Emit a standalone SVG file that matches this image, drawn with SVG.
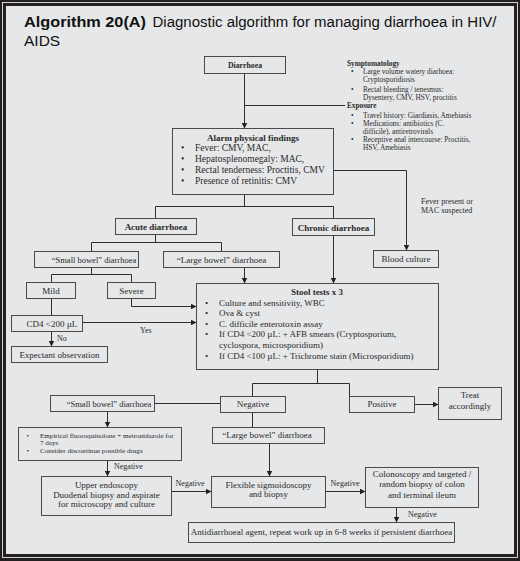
<svg xmlns="http://www.w3.org/2000/svg" width="520" height="561" viewBox="0 0 520 561">
<defs>
<style>
.box{fill:#e6e7e8;stroke:#4a4a4a;stroke-width:1}
.ln{fill:none;stroke:#2e2e2e;stroke-width:1}
.t{font-family:"Liberation Serif","Times New Roman",serif;font-size:9px;fill:#2a2a2a}
.c{text-anchor:middle}
.b{font-weight:bold}
.sm{font-size:7.3px}
.xs{font-size:7.1px}
.lb{font-size:8px}
.s85{font-size:8.5px}
.ttl{font-family:"Liberation Sans",Arial,sans-serif;font-size:15.5px;fill:#111}
</style>
<marker id="ah" markerWidth="6" markerHeight="6" refX="6" refY="3" orient="auto" markerUnits="userSpaceOnUse">
<path d="M0,0 L6,3 L0,6 z" fill="#222"/>
</marker>
</defs>
<rect x="0" y="0" width="520" height="561" fill="#231f20"/>
<rect x="2.5" y="2.5" width="515" height="555" fill="none" stroke="#ffffff" stroke-width="0.8"/>
<rect x="6" y="6" width="508" height="548" fill="#e6e7e8"/>

<g id="title">
<text class="ttl" x="24" y="27" font-weight="bold" textLength="122" lengthAdjust="spacingAndGlyphs">Algorithm 20(A)</text>
<text class="ttl" x="152.5" y="27" textLength="344" lengthAdjust="spacingAndGlyphs">Diagnostic algorithm for managing diarrhoea in HIV/</text>
<text class="ttl" x="24" y="46">AIDS</text>
</g>

<g id="connectors">
<path class="ln" d="M244.5,73.5 V128.5" marker-end="url(#ah)"/>
<path class="ln" d="M244.5,105.5 H345"/>
<path class="ln" d="M244.5,194.5 V206.5 M155.5,218.5 V206.5 H333.5 V218.5"/>
<path class="ln" d="M333.5,170.5 H406.5 V250.5" marker-end="url(#ah)"/>
<path class="ln" d="M155.5,234.5 V242.5 M91.5,251.5 V242.5 H221.5 V251.5"/>
<path class="ln" d="M244.5,267.5 V283.5" marker-end="url(#ah)"/>
<path class="ln" d="M333.5,235.5 V283.5" marker-end="url(#ah)"/>
<path class="ln" d="M91.5,267.5 V274.5 M51.5,282.5 V274.5 H131.5 V282.5"/>
<path class="ln" d="M131.5,298.5 V306.5 H196.5" marker-end="url(#ah)"/>
<path class="ln" d="M51.5,298.5 V315.5"/>
<path class="ln" d="M82.5,322.5 H196.5" marker-end="url(#ah)"/>
<path class="ln" d="M51.5,331.5 V346.5" marker-end="url(#ah)"/>
<path class="ln" d="M317.5,369.5 V383.5 M252.5,396.5 V383.5 H349.5 V396.5"/>
<path class="ln" d="M414.5,404.5 H438.5" marker-end="url(#ah)"/>
<path class="ln" d="M154.5,403.5 H220.5"/>
<path class="ln" d="M252.5,412.5 V427.5"/>
<path class="ln" d="M269.5,443.5 V476.5" marker-end="url(#ah)"/>
<path class="ln" d="M107.5,411.5 V427.5" marker-end="url(#ah)"/>
<path class="ln" d="M107.5,460.5 V476.5" marker-end="url(#ah)"/>
<path class="ln" d="M171.5,491.5 H211.5" marker-end="url(#ah)"/>
<path class="ln" d="M325.5,491.5 H365.5" marker-end="url(#ah)"/>
<path class="ln" d="M396.5,507.5 V522.5" marker-end="url(#ah)"/>
<text class="t lb" x="140" y="333">Yes</text>
<text class="t lb" x="57" y="341">No</text>
<text class="t lb" x="114" y="469">Negative</text>
<text class="t lb c" x="190" y="486">Negative</text>
<text class="t lb c" x="345" y="486">Negative</text>
<text class="t lb" x="408" y="517">Negative</text>
<text class="t lb" x="421" y="204">Fever present or</text>
<text class="t lb" x="421" y="213">MAC suspected</text>
</g>

<g id="diarrhoea">
<rect class="box" x="204.5" y="56.5" width="81" height="17"/>
<text class="t c b" x="245" y="68" style="font-size:7.8px">Diarrhoea</text>
</g>

<g id="history">
<text class="t sm b" x="347" y="66">Symptomatology</text>
<text class="t sm" x="351" y="74">•</text>
<text class="t sm" x="363" y="74">Large volume watery diarhoea:</text>
<text class="t sm" x="363" y="82">Cryptosporidiosis</text>
<text class="t sm" x="351" y="92">•</text>
<text class="t sm" x="363" y="92">Rectal bleeding / tenesmus:</text>
<text class="t sm" x="363" y="99.5">Dysentery, CMV, HSV, proctitis</text>
<text class="t sm b" x="347" y="107.5">Exposure</text>
<text class="t sm" x="351" y="118">•</text>
<text class="t sm" x="363" y="118">Travel history: Giardiasis, Amebiasis</text>
<text class="t sm" x="351" y="126">•</text>
<text class="t sm" x="363" y="126">Medications: antibiotics (C.</text>
<text class="t sm" x="363" y="133.5">difficile), antiretrovirals</text>
<text class="t sm" x="351" y="142">•</text>
<text class="t sm" x="363" y="142">Receptive anal intercourse: Proctitis,</text>
<text class="t sm" x="363" y="149.5">HSV, Amebiasis</text>
</g>

<g id="alarm">
<rect class="box" x="172.5" y="128.5" width="161" height="66"/>
<text class="t c b" x="253" y="141">Alarm physical findings</text>
<text class="t" x="181" y="151" style="font-size:9.5px">•</text>
<text class="t" x="195" y="151" style="font-size:9.5px">Fever: CMV, MAC,</text>
<text class="t" x="181" y="162" style="font-size:9.5px">•</text>
<text class="t" x="195" y="162" style="font-size:9.5px">Hepatosplenomegaly: MAC,</text>
<text class="t" x="181" y="173" style="font-size:9.5px">•</text>
<text class="t" x="195" y="173" style="font-size:9.5px">Rectal tenderness: Proctitis, CMV</text>
<text class="t" x="181" y="183.5" style="font-size:9.5px">•</text>
<text class="t" x="195" y="183.5" style="font-size:9.5px">Presence of retinitis: CMV</text>
</g>

<g id="acute">
<rect class="box" x="115.5" y="218.5" width="81" height="16"/>
<text class="t c b" x="156" y="230">Acute diarrhoea</text>
</g>

<g id="chronic">
<rect class="box" x="292.5" y="218.5" width="82" height="17"/>
<text class="t c b" x="333.5" y="230.5">Chronic diarrhoea</text>
</g>

<g id="small1">
<rect class="box" x="34.5" y="251.5" width="104" height="16"/>
<text class="t c s85" x="94" y="263">“Small bowel” diarrhoea</text>
</g>

<g id="large1">
<rect class="box" x="163.5" y="251.5" width="116" height="16"/>
<text class="t c" x="221.5" y="263">“Large bowel” diarrhoea</text>
</g>

<g id="mild">
<rect class="box" x="26.5" y="282.5" width="49" height="16"/>
<text class="t c" x="51" y="293.5">Mild</text>
</g>

<g id="severe">
<rect class="box" x="107.5" y="282.5" width="48" height="16"/>
<text class="t c" x="131.5" y="293.5">Severe</text>
</g>

<g id="cd4">
<rect class="box" x="11.5" y="315.5" width="71" height="16"/>
<text class="t c" x="52" y="326.5">CD4 &lt;200 µL</text>
</g>

<g id="expectant">
<rect class="box" x="11.5" y="346.5" width="96" height="16"/>
<text class="t c" x="59.5" y="358">Expectant observation</text>
</g>

<g id="blood">
<rect class="box" x="373.5" y="250.5" width="65" height="17"/>
<text class="t c" x="406" y="262">Blood culture</text>
</g>

<g id="stool">
<rect class="box" x="196.5" y="283.5" width="242" height="86"/>
<text class="t c b" x="317" y="295">Stool tests x 3</text>
<text class="t" x="205" y="305.5">•</text>
<text class="t" x="219" y="305.5">Culture and sensitivity, WBC</text>
<text class="t" x="205" y="316">•</text>
<text class="t" x="219" y="316">Ova &amp; cyst</text>
<text class="t" x="205" y="326.5">•</text>
<text class="t" x="219" y="326.5">C. difficile enterotoxin assay</text>
<text class="t" x="205" y="337">•</text>
<text class="t" x="219" y="337">If CD4 &lt;200 µL: + AFB smears (Cryptosporium,</text>
<text class="t" x="219" y="347.5">cyclospora, microsporidium)</text>
<text class="t" x="205" y="359">•</text>
<text class="t" x="219" y="359">If CD4 &lt;100 µL: + Trichrome stain (Microsporidium)</text>
</g>

<g id="small2">
<rect class="box" x="50.5" y="395.5" width="104" height="16"/>
<text class="t c s85" x="109" y="407">“Small bowel” diarrhoea</text>
</g>

<g id="negative">
<rect class="box" x="220.5" y="396.5" width="65" height="16"/>
<text class="t c" x="253" y="407">Negative</text>
</g>

<g id="positive">
<rect class="box" x="349.5" y="396.5" width="65" height="16"/>
<text class="t c" x="382" y="407">Positive</text>
</g>

<g id="treat">
<rect class="box" x="438.5" y="387.5" width="63" height="32"/>
<text class="t c" x="470" y="397.5">Treat</text>
<text class="t c" x="470" y="408.5">accordingly</text>
</g>

<g id="large2">
<rect class="box" x="212.5" y="427.5" width="112" height="16"/>
<text class="t c" x="267" y="438">“Large bowel” diarrhoea</text>
</g>

<g id="empirical">
<rect class="box" x="18.5" y="427.5" width="163" height="33"/>
<text class="t xs" x="26.5" y="437.5">•</text>
<text class="t xs" x="40" y="437.5">Empirical fluoroquinolone + metronidazole for</text>
<text class="t xs" x="40" y="444.5">7 days</text>
<text class="t xs" x="26.5" y="453">•</text>
<text class="t xs" x="40" y="453">Consider discontinue possible drugs</text>
</g>

<g id="upper">
<rect class="box" x="41.5" y="476.5" width="130" height="39"/>
<text class="t c" x="106.5" y="487.5">Upper endoscopy</text>
<text class="t c" x="106.5" y="497.5">Duodenal biopsy and aspirate</text>
<text class="t c" x="106.5" y="507">for microscopy and culture</text>
</g>

<g id="flexible">
<rect class="box" x="211.5" y="476.5" width="114" height="31"/>
<text class="t c" x="268.5" y="487.5">Flexible sigmoidoscopy</text>
<text class="t c" x="268.5" y="497">and biopsy</text>
</g>

<g id="colonoscopy">
<rect class="box" x="365.5" y="467.5" width="113" height="40"/>
<text class="t c" x="422" y="477">Colonoscopy and targeted /</text>
<text class="t c" x="422" y="487">random biopsy of colon</text>
<text class="t c" x="422" y="497.5">and terminal ileum</text>
</g>

<g id="antidiarrhoeal">
<rect class="box" x="188.5" y="522.5" width="266" height="20"/>
<text class="t c" x="321.5" y="535">Antidiarrhoeal agent, repeat work up in 6-8 weeks if persistent diarrhoea</text>
</g>
</svg>
